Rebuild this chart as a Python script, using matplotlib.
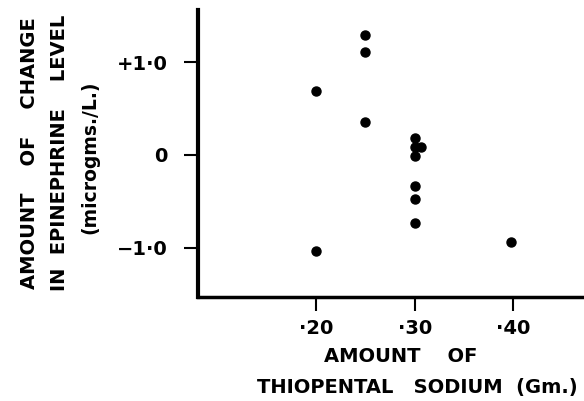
import matplotlib.pyplot as plt

# dose de tiopental (Gm.) e variação de epinefrina (microgms./L.)
dose = [0.20, 0.20, 0.25, 0.25, 0.25, 0.30, 0.30, 0.306, 0.30, 0.30, 0.30, 0.30, 0.398]
variacao = [0.69, -1.03, 1.29, 1.11, 0.35, 0.18, 0.09, 0.08, -0.01, -0.34, -0.48, -0.73, -0.94]

xticks = [0.20, 0.30, 0.40]
xtick_labels = ['·20', '·30', '·40']
yticks = [1.0, 0.0, -1.0]
ytick_labels = ['+1·0', '0', '−1·0']

plt.rcParams['font.family'] = 'DejaVu Sans'
plt.rcParams['font.weight'] = 'bold'

fig = plt.figure(figsize=(5.84, 4.01), dpi=100)
ax = fig.add_axes([198 / 584, 1 - 297 / 401, 1 - 198 / 584, (297 - 10) / 401])

ax.plot(dose, variacao, 'o', color='black', markersize=6.5, linestyle='none')

ax.set_xlim(0.08, 0.472)
ax.set_ylim(-1.53, 1.56)

for lado in ['top', 'right']:
    ax.spines[lado].set_visible(False)
ax.spines['left'].set_linewidth(3)
ax.spines['bottom'].set_linewidth(2.5)

ax.set_xticks(xticks)
ax.set_xticklabels(xtick_labels, fontsize=14, fontweight='bold')
ax.set_yticks(yticks)
ax.set_yticklabels(ytick_labels, fontsize=14, fontweight='bold')
ax.tick_params(axis='x', length=10, width=1.5, pad=6, direction='out')
ax.tick_params(axis='y', length=10, width=1.5, pad=12, direction='out')

# rótulos dos eixos (texto livre, como no original)
fig.text(30 / 584, 1 - 153 / 401, 'AMOUNT    OF    CHANGE', rotation=90,
         ha='center', va='center', fontsize=14, fontweight='bold')
fig.text(60 / 584, 1 - 153 / 401, 'IN  EPINEPHRINE    LEVEL', rotation=90,
         ha='center', va='center', fontsize=14, fontweight='bold')
fig.text(90 / 584, 1 - 157 / 401, '(microgms./L.)', rotation=90,
         ha='center', va='center', fontsize=13.5, fontweight='bold')

fig.text(401 / 584, 1 - 357 / 401, 'AMOUNT    OF', ha='center', va='center',
         fontsize=14, fontweight='bold')
fig.text(417 / 584, 1 - 387 / 401, 'THIOPENTAL   SODIUM  (Gm.)', ha='center',
         va='center', fontsize=14, fontweight='bold')

fig.savefig('out.png', dpi=100)
